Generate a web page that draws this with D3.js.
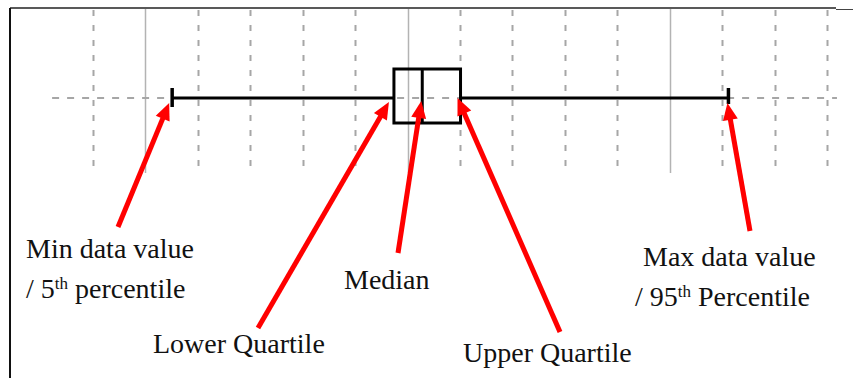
<!DOCTYPE html>
<html lang="en">
<head>
<meta charset="utf-8">
<title>Box plot explained</title>
<script src="https://cdn.jsdelivr.net/npm/d3@7"></script>
<style>
  html, body { margin: 0; padding: 0; background: #fff; }
  svg { display: block; }
  .label { font-family: "Liberation Serif", "DejaVu Serif", serif; font-size: 28px; fill: #111; }
</style>
</head>
<body>
<div id="chart"></div>
<script>
  // grid ticks (value units)
  const minorTicks = [-10, 10, 20, 30, 40, 60, 70, 80, 90, 110, 120, 130];
  const majorTicks = [0, 50, 100];

  // five number summary
  const statNames = ['min', 'q1', 'median', 'q3', 'max'];
  const statValues = [5.1, 47.4, 52.8, 60.1, 111.2];

  // annotation text, line 1 / line 2 (sup part of line 2)
  const labelLine1 = ['Min data value', 'Lower Quartile', 'Median', 'Upper Quartile', 'Max data value'];
  const labelPre = ['/ 5', '', '', '', '/ 95'];
  const labelSup = ['th', '', '', '', 'th'];
  const labelPost = [' percentile', '', '', '', ' Percentile'];

  const width = 853, height = 378;
  const yMid = 98, boxHalf = 27;

  // layout of the annotations: arrow tail, arrow tip offset, text anchor point
  const layout = [
    { tail: [118, 227], tip: [-3, 5], text: [26, 258] },
    { tail: [258, 328], tip: [-5, 4], text: [153, 353] },
    { tail: [398, 253], tip: [-1, 3], text: [344, 289] },
    { tail: [560, 332], tip: [-3, 0], text: [463, 362] },
    { tail: [750, 231], tip: [-1, 5], text: [643, 266] }
  ];

  const svg = d3.select('#chart').append('svg').attr('width', width).attr('height', height);

  const x = d3.scaleLinear().domain([-10, 130]).range([93, 827]);

  // frame (top + left only)
  svg.append('line').attr('x1', 10).attr('x2', 836).attr('y1', 8).attr('y2', 8)
    .attr('stroke', '#222').attr('stroke-width', 1.5);
  svg.append('line').attr('x1', 836).attr('x2', 853).attr('y1', 9.5).attr('y2', 9.5)
    .attr('stroke', '#444').attr('stroke-width', 1);
  svg.append('line').attr('x1', 10).attr('x2', 10).attr('y1', 8).attr('y2', height)
    .attr('stroke', '#111').attr('stroke-width', 2);

  // grid
  const grid = svg.append('g').classed('grid', true);
  grid.selectAll('line.minor').data(minorTicks).enter().append('line')
    .classed('minor', true)
    .attr('x1', d => Math.round(x(d)) + 0.5).attr('x2', d => Math.round(x(d)) + 0.5)
    .attr('y1', 10).attr('y2', 168)
    .attr('stroke', '#a6a6a6').attr('stroke-width', 2).attr('stroke-dasharray', '6,9');
  grid.selectAll('line.major').data(majorTicks).enter().append('line')
    .classed('major', true)
    .attr('x1', d => Math.round(x(d)) + 0.5).attr('x2', d => Math.round(x(d)) + 0.5)
    .attr('y1', 9).attr('y2', 173)
    .attr('stroke', '#b3b3b3').attr('stroke-width', 1.5);
  grid.append('line')
    .attr('x1', x(-17.8)).attr('x2', x(131.9))
    .attr('y1', yMid).attr('y2', yMid)
    .attr('stroke', '#a6a6a6').attr('stroke-width', 2).attr('stroke-dasharray', '7,8');

  const s = {};
  statNames.forEach((n, i) => s[n] = statValues[i]);

  // box plot
  const bp = svg.append('g').classed('boxplot', true);
  bp.append('line').attr('x1', x(s.min)).attr('x2', x(s.q1)).attr('y1', yMid).attr('y2', yMid)
    .attr('stroke', '#000').attr('stroke-width', 3);
  bp.append('line').attr('x1', x(s.q3)).attr('x2', x(s.max)).attr('y1', yMid).attr('y2', yMid)
    .attr('stroke', '#000').attr('stroke-width', 3);
  bp.append('line').attr('x1', x(s.min)).attr('x2', x(s.min)).attr('y1', yMid - 10).attr('y2', yMid + 9)
    .attr('stroke', '#000').attr('stroke-width', 3.5);
  bp.append('line').attr('x1', x(s.max)).attr('x2', x(s.max)).attr('y1', yMid - 10).attr('y2', yMid + 6)
    .attr('stroke', '#000').attr('stroke-width', 3.5);
  bp.append('rect')
    .attr('x', x(s.q1)).attr('y', yMid - boxHalf - 2)
    .attr('width', x(s.q3) - x(s.q1)).attr('height', 2 * boxHalf)
    .attr('fill', 'none').attr('stroke', '#000').attr('stroke-width', 3);
  bp.append('line').attr('x1', x(s.median)).attr('x2', x(s.median))
    .attr('y1', yMid - boxHalf - 2).attr('y2', yMid + boxHalf - 2)
    .attr('stroke', '#000').attr('stroke-width', 3);

  // arrows
  const arrows = svg.append('g').classed('arrows', true);
  statValues.forEach((v, i) => {
    const L = layout[i];
    const tip = [x(v) + L.tip[0], yMid + L.tip[1]];
    const tail = L.tail;
    const dx = tip[0] - tail[0], dy = tip[1] - tail[1];
    const len = Math.sqrt(dx * dx + dy * dy);
    const ux = dx / len, uy = dy / len;
    const headLen = 17, headW = 7.5;
    const base = [tip[0] - ux * headLen, tip[1] - uy * headLen];
    arrows.append('line')
      .attr('x1', tail[0]).attr('y1', tail[1])
      .attr('x2', base[0] + ux * 2).attr('y2', base[1] + uy * 2)
      .attr('stroke', '#ff0000').attr('stroke-width', 5);
    arrows.append('path')
      .attr('d', d3.line()([
        tip,
        [base[0] - uy * headW, base[1] + ux * headW],
        [base[0] + uy * headW, base[1] - ux * headW]
      ]) + 'Z')
      .attr('fill', '#ff0000');
  });

  // labels
  const labels = svg.append('g').classed('labels', true);
  labelLine1.forEach((t, i) => {
    const L = layout[i];
    labels.append('text').classed('label', true)
      .attr('x', L.text[0]).attr('y', L.text[1]).text(t);
    if (labelPre[i]) {
      const t2 = labels.append('text').classed('label', true)
        .attr('x', i === 4 ? L.text[0] - 8 : L.text[0]).attr('y', L.text[1] + 40);
      t2.append('tspan').text(labelPre[i]);
      t2.append('tspan').text(labelSup[i]).attr('font-size', 17).attr('dy', -9);
      t2.append('tspan').text(labelPost[i]).attr('dy', 9);
    }
  });
</script>
</body>
</html>
